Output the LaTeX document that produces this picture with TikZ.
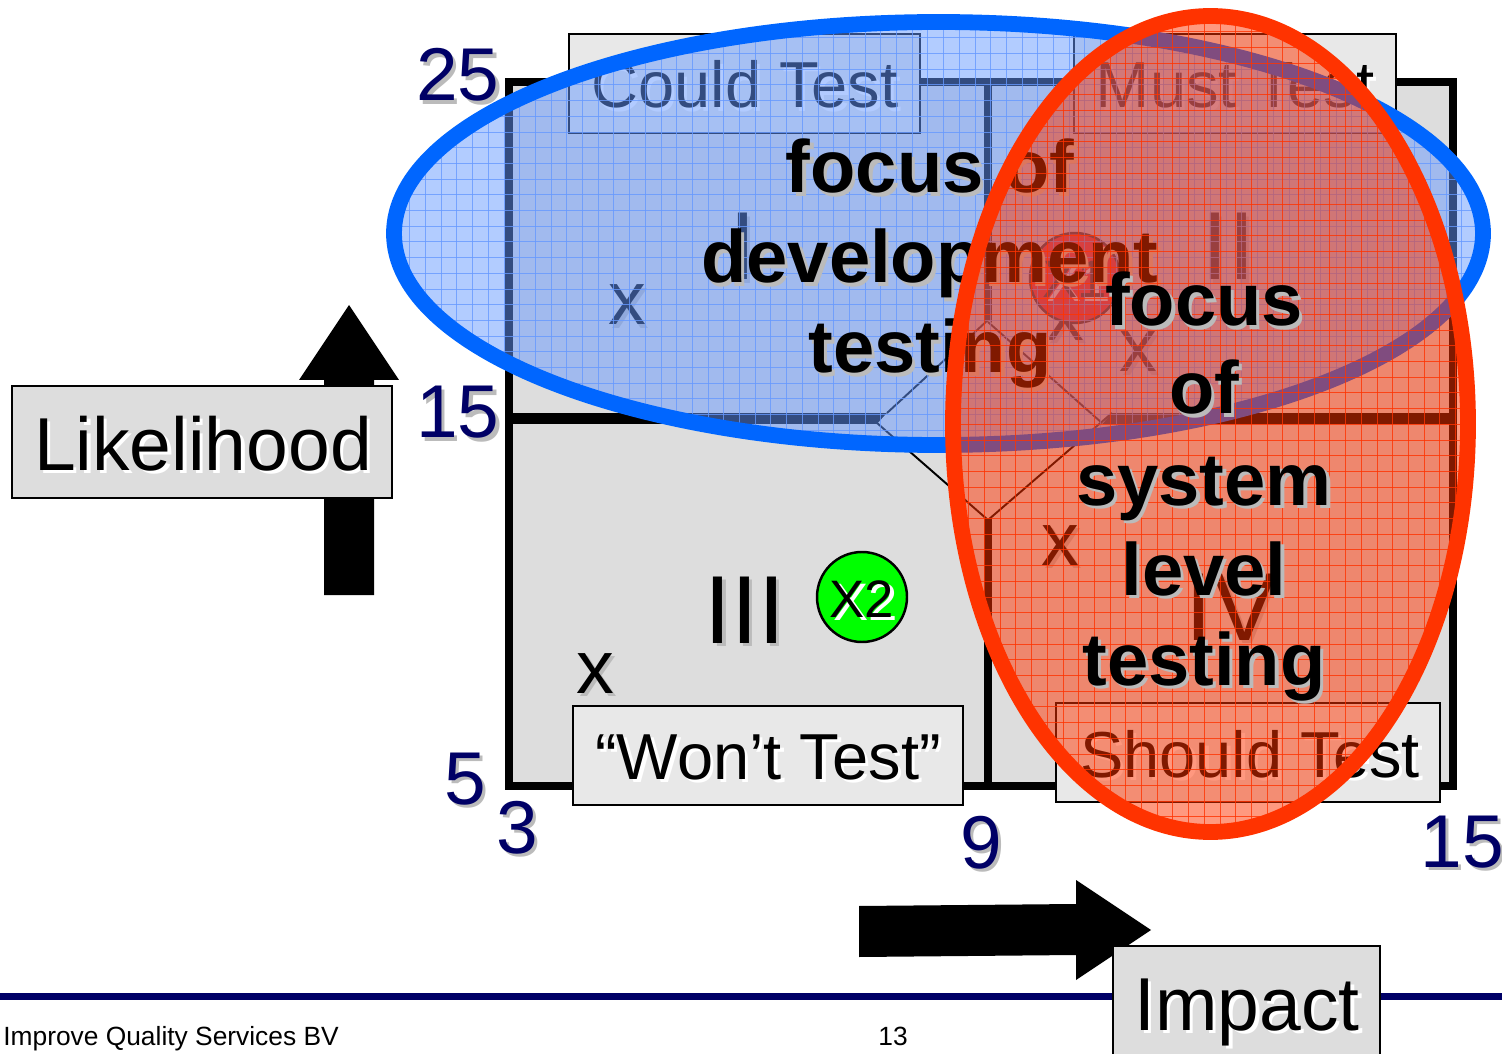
\documentclass[tikz,border=0pt]{standalone}
\usepackage{fontspec}
\setmainfont{Liberation Sans}
\definecolor{navyline}{HTML}{000066}
\definecolor{matrixgrey}{HTML}{DDDDDD}
\definecolor{boxgrey}{HTML}{E8E8E8}
\definecolor{shadowgrey}{HTML}{BBBBBB}
\definecolor{devblue}{HTML}{0066FF}
\definecolor{devfill}{HTML}{6699FF}
\definecolor{sysred}{HTML}{FF3300}
\tikzset{
    basetext/.style={inner sep=0pt,anchor=base,align=center},
    huge/.style={basetext,font=\fontsize{42.7}{42.7}\selectfont},
    big/.style={basetext,font=\fontsize{37}{37}\selectfont},
    bigx/.style={basetext,font=\fontsize{43}{43}\selectfont},
    roman/.style={basetext,font=\fontsize{55}{55}\selectfont},
    focus/.style={basetext,font=\fontsize{42.2}{42.2}\selectfont\bfseries},
    small/.style={basetext,font=\fontsize{15}{15}\selectfont},
    number/.style={basetext,font=\fontsize{42.6}{42.6}\selectfont,text=navyline},
    labelbox/.style={draw=black,line width=1.6pt},
    gridline/.style={line width=0.4pt,opacity=0.8},
}
% text with a drop shadow: options, name, position, shadow colour, text
\newcommand{\shtext}[5][]{%
    \node[#1,text=#4,xshift=1.9pt,yshift=-1.9pt] (#2shadow) at (#3) {#5};
    \node[#1] (#2) at (#3) {#5};
}
\begin{document}
\begin{tikzpicture}[x=0.02cm,y=-0.02cm]
    \useasboundingbox (0,0) rectangle (1502,1054);

    % Footer
    \draw[navyline,line width=4pt] (0,996.5) -- (1502,996.5);
    \node[small,anchor=base west] (company) at (3,1045) {Improve Quality Services BV};
    \node[small] (pagenr) at (893,1045) {13};

    % Matrix
    \draw[fill=matrixgrey,line width=4.2pt] (509,82) rectangle (1453,786);
    \draw[line width=6pt] (509,418.5) -- (900,418.5);
    \draw[line width=6pt] (1090,418.5) -- (1453,418.5);
    \draw[line width=4.2pt] (988,82) -- (988,340);
    \draw[line width=4.2pt] (988,500) -- (988,786);
    \fill[matrixgrey] (877,424) -- (887,413) -- (988,320) -- (1112,413) -- (1102,424) -- (988,520) -- cycle;
    \draw[line width=1.1pt] (887,413) -- (988,320);
    \draw[line width=1.1pt] (988,322) -- (1102,423);
    \draw[line width=1.1pt] (877,423) -- (988,520);
    \draw[line width=1.1pt] (988,520) -- (1112,413);

    % Quadrant numbers
    \shtext[roman]{one}{743,280}{shadowgrey}{I}
    \shtext[roman]{two}{1228,280}{shadowgrey}{II}
    \shtext[roman]{three}{745,643}{shadowgrey}{III}
    \shtext[roman]{four}{1231,640}{shadowgrey}{IV}

    % Risk items
    \shtext[bigx]{itema}{627,325}{shadowgrey}{x}
    \shtext[bigx]{itemb}{1065,340}{shadowgrey}{x}
    \shtext[bigx]{itemc}{1138,372}{shadowgrey}{x}
    \shtext[bigx]{itemd}{1060,565}{shadowgrey}{x}
    \shtext[bigx]{iteme}{595,693}{shadowgrey}{x}
    \draw[fill=red,line width=1.4pt] (1075,278) circle [radius=45];
    \shtext[basetext,font=\fontsize{30}{30}\selectfont]{xone}{1075,298}{white}{X1}
    \draw[fill=green,line width=1.4pt] (862,597) circle [radius=45];
    \shtext[basetext,font=\fontsize{30}{30}\selectfont]{xtwo}{862,617}{white}{X2}

    % Test labels
    \draw[labelbox,fill=boxgrey] (569,34) rectangle (920,133);
    \shtext[big]{could}{745,108}{white}{Could Test}
    \draw[labelbox,fill=boxgrey] (1074,34) rectangle (1396,133);
    \shtext[big]{must}{1235,108}{white}{Must Test}
    \draw[labelbox,fill=boxgrey] (573,706) rectangle (963,805);
    \shtext[big]{wont}{768,779}{white}{“Won’t Test”}
    \draw[labelbox,fill=boxgrey] (1056,703) rectangle (1440,802);
    \shtext[big]{should}{1250,777}{white}{Should Test}

    % Axis values
    \shtext[number]{ytop}{458,101}{shadowgrey}{25}
    \shtext[number]{ymid}{458,438}{shadowgrey}{15}
    \shtext[number]{ylow}{465,804}{shadowgrey}{5}
    \shtext[number]{xlow}{517,853}{shadowgrey}{3}
    \shtext[number]{xmid}{981,868}{shadowgrey}{9}
    \shtext[number]{xtop}{1462,867}{shadowgrey}{15}

    % Axis arrows
    \fill (349,305) -- (399,380) -- (374,380) -- (374,595) -- (324,595) -- (324,380) -- (299,380) -- cycle;
    \fill (1151,930) -- (1076,980) -- (1076,955) -- (859,957) -- (859,906) -- (1076,904) -- (1076,880) -- cycle;

    % Axis labels
    \draw[labelbox,fill=matrixgrey] (12,386) rectangle (392,498);
    \shtext[huge]{likelihood}{203,470}{white}{Likelihood}
    \draw[labelbox,fill=matrixgrey] (1113,946) rectangle (1380,1070);
    \shtext[huge]{impact}{1247,1030}{white}{Impact}

    % Development testing
    \fill[devfill,opacity=0.5] (938.5,233.5) ellipse [x radius=544.5,y radius=211.5];
    \begin{scope}
        \clip (938.5,233.5) ellipse [x radius=544.5,y radius=211.5];
        \foreach \gridx in {394,409.7,...,1490}
            \draw[devfill,gridline] (\gridx,10) -- (\gridx,460);
        \foreach \gridy in {22,37.7,...,460}
            \draw[devfill,gridline] (385,\gridy) -- (1495,\gridy);
    \end{scope}
    \draw[devblue,line width=9pt] (938.5,233.5) ellipse [x radius=544.5,y radius=211.5];
    \shtext[focus]{devone}{930,193}{shadowgrey}{focus of}
    \shtext[focus]{devtwo}{930,283}{shadowgrey}{development}
    \shtext[focus]{devthree}{930,373}{shadowgrey}{testing}

    % System testing
    \fill[sysred,opacity=0.5] (1210.5,424) ellipse [x radius=257.5,y radius=408];
    \begin{scope}
        \clip (1210.5,424) ellipse [x radius=257.5,y radius=408];
        \foreach \gridx in {953,968.7,...,1475}
            \draw[sysred,gridline] (\gridx,10) -- (\gridx,840);
        \foreach \gridy in {16,31.7,...,840}
            \draw[sysred,gridline] (945,\gridy) -- (1478,\gridy);
    \end{scope}
    \draw[sysred,line width=9pt] (1210.5,424) ellipse [x radius=257.5,y radius=408];
    \shtext[focus]{sysone}{1204,326}{shadowgrey}{focus}
    \shtext[focus]{systwo}{1204,414}{shadowgrey}{of}
    \shtext[focus]{systhree}{1204,505}{shadowgrey}{system}
    \shtext[focus]{sysfour}{1204,595}{shadowgrey}{level}
    \shtext[focus]{sysfive}{1204,685}{shadowgrey}{testing}
\end{tikzpicture}
\end{document}
